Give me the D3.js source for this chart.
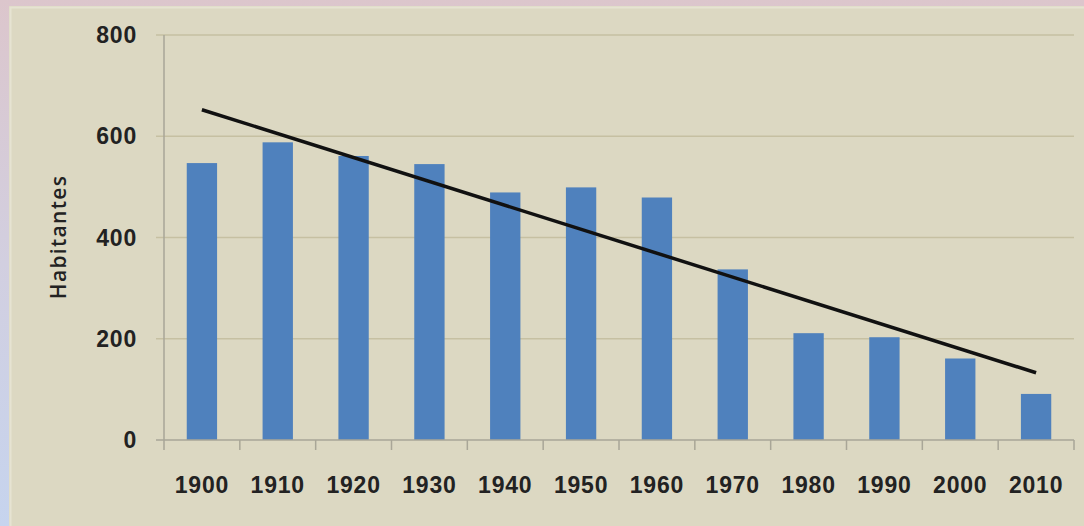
<!DOCTYPE html>
<html>
<head>
<meta charset="utf-8">
<script src="https://cdn.jsdelivr.net/npm/d3@7"></script>
<style>
  body { margin: 0; background: #dcd8c2; }
  svg { display: block; }
</style>
</head>
<body>
<svg id="chart" width="1084" height="526"></svg>
<script>
var years = ["1900", "1910", "1920", "1930", "1940", "1950", "1960", "1970", "1980", "1990", "2000", "2010"]
var habitantes = [547, 588, 561, 545, 489, 499, 479, 337, 211, 203, 161, 91]
var yTicks = [0, 200, 400, 600, 800]

var svg = d3.select('#chart')
var plotLeft = 164, plotRight = 1074, plotTop = 35, plotBottom = 440

// frame
var defs = svg.append('defs')
var grad = defs.append('linearGradient').attr('id', 'edge').attr('x1', 0).attr('y1', 0).attr('x2', 0).attr('y2', 1)
grad.append('stop').attr('offset', '0%').attr('stop-color', '#dcc6cc')
grad.append('stop').attr('offset', '50%').attr('stop-color', '#d2cfe0')
grad.append('stop').attr('offset', '100%').attr('stop-color', '#c6d4ee')

svg.append('rect').attr('width', 1084).attr('height', 526).attr('fill', 'url(#edge)')
svg.append('rect').attr('x', 9).attr('y', 6).attr('width', 1075).attr('height', 520).attr('fill', '#dcd8c2')
svg.append('rect').attr('x', 10.5).attr('y', 7.5).attr('width', 1080).attr('height', 530)
  .attr('fill', 'none').attr('stroke', '#e6e3d2').attr('stroke-width', 2)

var x = d3.scaleBand().domain(years).range([plotLeft, plotRight]).paddingInner(0.6).paddingOuter(0.3)
var xTick = d3.scaleLinear().domain([0, years.length]).range([plotLeft, plotRight])
var y = d3.scaleLinear().domain([0, 800]).range([plotBottom, plotTop])

// gridlines
svg.append('g').selectAll('line').data(yTicks.filter(function(d){ return d > 0 }))
  .enter().append('line')
  .attr('x1', plotLeft - 8).attr('x2', plotRight)
  .attr('y1', function(d){ return y(d) }).attr('y2', function(d){ return y(d) })
  .attr('stroke', '#c6c0a2').attr('stroke-width', 1.5)

// bars
svg.append('g').selectAll('rect').data(habitantes)
  .enter().append('rect')
  .attr('x', function(d, i){ return x(years[i]) })
  .attr('y', function(d){ return y(d) })
  .attr('width', x.bandwidth())
  .attr('height', function(d){ return y(0) - y(d) })
  .attr('fill', '#4f81bd')

// axes
svg.append('line').attr('x1', plotLeft).attr('x2', plotLeft).attr('y1', plotTop).attr('y2', plotBottom)
  .attr('stroke', '#a9a697').attr('stroke-width', 1.5)
svg.append('line').attr('x1', plotLeft - 8).attr('x2', plotRight).attr('y1', plotBottom).attr('y2', plotBottom)
  .attr('stroke', '#a9a697').attr('stroke-width', 1.5)
svg.append('g').selectAll('line').data(d3.range(years.length + 1))
  .enter().append('line')
  .attr('x1', function(d){ return xTick(d) }).attr('x2', function(d){ return xTick(d) })
  .attr('y1', plotBottom).attr('y2', plotBottom + 10)
  .attr('stroke', '#a9a697').attr('stroke-width', 1.5)

// trend line (least squares)
var n = habitantes.length
var mx = d3.mean(d3.range(n)), my = d3.mean(habitantes)
var sxy = d3.sum(habitantes, function(d, i){ return (i - mx) * (d - my) })
var sxx = d3.sum(d3.range(n), function(i){ return (i - mx) * (i - mx) })
var slope = sxy / sxx, icpt = my - slope * mx
var line = d3.line()
  .x(function(i){ return x(years[i]) + x.bandwidth() / 2 })
  .y(function(i){ return y(icpt + slope * i) })
svg.append('path').datum([0, n - 1]).attr('d', line)
  .attr('fill', 'none').attr('stroke', '#111').attr('stroke-width', 3.5)

// labels
svg.append('g').selectAll('text').data(yTicks)
  .enter().append('text')
  .attr('x', 137).attr('y', function(d){ return y(d) + 8 })
  .attr('text-anchor', 'end')
  .attr('font-family', 'Liberation Sans, Arial, sans-serif')
  .attr('font-weight', 'bold').attr('font-size', 23).attr('letter-spacing', 0.8)
  .attr('fill', '#222')
  .text(function(d){ return d })

svg.append('g').selectAll('text').data(years)
  .enter().append('text')
  .attr('x', function(d){ return x(d) + x.bandwidth() / 2 }).attr('y', 493)
  .attr('text-anchor', 'middle')
  .attr('font-family', 'Liberation Sans, Arial, sans-serif')
  .attr('font-weight', 'bold').attr('font-size', 23).attr('letter-spacing', 0.8)
  .attr('fill', '#222')
  .text(function(d){ return d })

svg.append('text')
  .attr('transform', 'translate(66,237) rotate(-90)')
  .attr('text-anchor', 'middle')
  .attr('font-family', 'Open Sans, sans-serif')
  .attr('font-weight', 600)
  .attr('font-size', 21).attr('letter-spacing', 1.3)
  .attr('fill', '#222')
  .text('Habitantes')
</script>
</body>
</html>
